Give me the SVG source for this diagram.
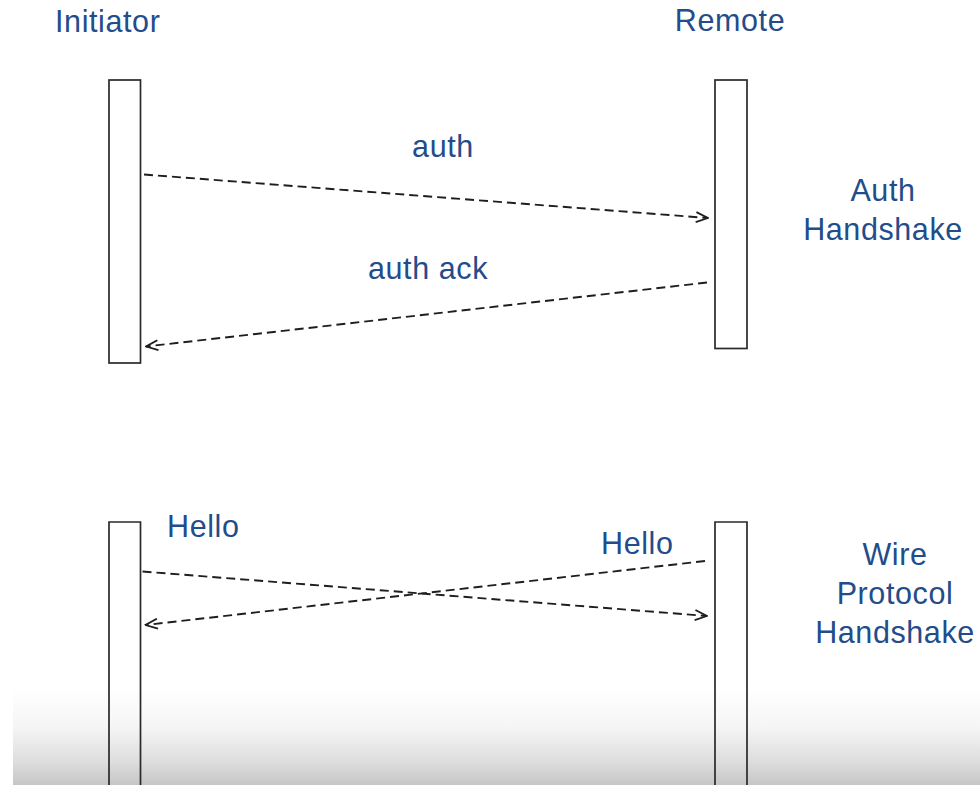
<svg xmlns="http://www.w3.org/2000/svg" width="980" height="785" viewBox="0 0 980 785">
  <defs>
    <style>
      .lbl { font-family: "Liberation Sans", Arial, Helvetica, sans-serif; font-size: 30.5px; fill: #234c8a; letter-spacing: 0.6px; }
      .mid { text-anchor: middle; }
      .bar { fill: none; stroke: #2a2a2a; stroke-width: 1.7; }
      .msg { fill: none; stroke: #1e1e1e; stroke-width: 1.9; stroke-dasharray: 9 5; }
    </style>
    <marker id="open-arrow" viewBox="0 0 14 12" markerWidth="14" markerHeight="12" refX="13" refY="6" orient="auto" markerUnits="userSpaceOnUse">
      <path d="M1,1 L13,6 L1,11" fill="none" stroke="#1e1e1e" stroke-width="1.8"/>
    </marker>
    <linearGradient id="floor-shade" x1="0" y1="688" x2="0" y2="785" gradientUnits="userSpaceOnUse">
      <stop offset="0" stop-color="#ffffff"/>
      <stop offset="0.4" stop-color="#f5f5f5"/>
      <stop offset="0.75" stop-color="#dedede"/>
      <stop offset="1" stop-color="#c6c6c6"/>
    </linearGradient>
  </defs>

  <rect x="0" y="0" width="980" height="785" fill="#ffffff"/>
  <rect x="13" y="688" width="967" height="97" fill="url(#floor-shade)"/>

  <!-- participant headings -->
  <text class="lbl" x="55" y="32">Initiator</text>
  <text class="lbl mid" x="730" y="31">Remote</text>

  <!-- auth handshake activations -->
  <g id="initiator-auth">
    <rect class="bar" x="109" y="80" width="31.5" height="283"/>
  </g>
  <g id="remote-auth">
    <rect class="bar" x="715" y="80" width="32" height="268.5"/>
  </g>

  <!-- wire protocol activations (continue past the bottom edge) -->
  <g id="initiator-wire">
    <path class="bar" d="M109,790 V522 H140.5 V790"/>
  </g>
  <g id="remote-wire">
    <path class="bar" d="M715,790 V522 H747 V790"/>
  </g>

  <!-- phase captions -->
  <g id="phase-auth">
    <text class="lbl mid" x="883" y="201">Auth</text>
    <text class="lbl mid" x="883" y="240">Handshake</text>
  </g>
  <g id="phase-wire">
    <text class="lbl mid" x="895" y="565">Wire</text>
    <text class="lbl mid" x="895" y="604">Protocol</text>
    <text class="lbl mid" x="895" y="643">Handshake</text>
  </g>

  <!-- messages -->
  <g id="connectors">
    <line class="msg" x1="144" y1="174.5" x2="708" y2="218" marker-end="url(#open-arrow)"/>
    <line class="msg" x1="707" y1="282.5" x2="146" y2="346.5" marker-end="url(#open-arrow)"/>
    <line class="msg" x1="142.5" y1="571.5" x2="707" y2="616" marker-end="url(#open-arrow)"/>
    <line class="msg" x1="705" y1="561" x2="145.5" y2="625" marker-end="url(#open-arrow)"/>
  </g>

  <!-- message labels -->
  <text class="lbl mid" x="443" y="157">auth</text>
  <text class="lbl mid" x="428" y="279">auth ack</text>
  <text class="lbl" x="167" y="537">Hello</text>
  <text class="lbl" x="601" y="554">Hello</text>
</svg>
